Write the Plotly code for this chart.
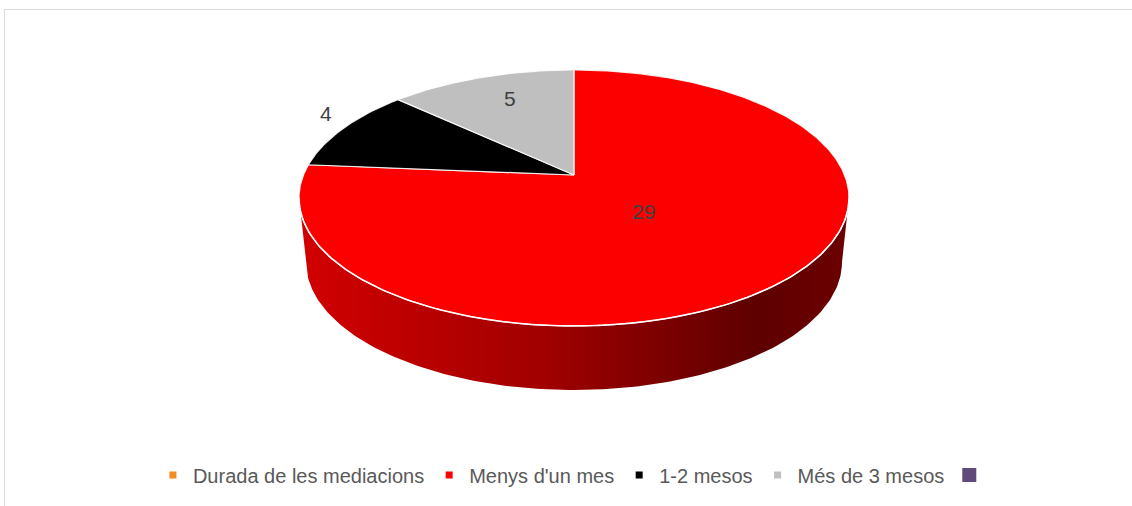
import numpy as np
import plotly.graph_objects as go

# ---- data ----
series_name = "Durada de les mediacions"
categories = ["Menys d'un mes", "1-2 mesos", "Més de 3 mesos"]
values = [29, 4, 5]
slice_colors = ["#FC0000", "#000000", "#BFBFBF"]

# ---- geometry of the 3-D pie (pixel-like axis units) ----
W, H = 1132, 506
CX, CY = 574, 198      # top-face ellipse centre
RX, RY = 275, 128      # top-face radii
VY = 175               # projected apex of the slices (perspective)
DEPTH = 64
RXB = 268              # bottom ellipse radius (perspective)

k = (VY - CY) / RY


def edge_point(theta):
    """Point on top ellipse reached from apex in the direction of pie angle theta (deg, clockwise from top)."""
    t = np.radians(theta)
    s = k * np.cos(t) + np.sqrt((k * np.cos(t)) ** 2 - k * k + 1)
    return CX + s * RX * np.sin(t), VY - s * RY * np.cos(t)


def ray_point(theta, s):
    t = np.radians(theta)
    return CX + s * RX * np.sin(t), VY - s * RY * np.cos(t)


fig = go.Figure()

# side wall (front half, visible part belongs to first slice)
tt = np.radians(np.linspace(90, 270, 181))
top_x = CX + RX * np.sin(tt)
top_y = CY - RY * np.cos(tt)
bot_x = CX + RXB * np.sin(tt[::-1])
bot_y = CY + DEPTH - RY * np.cos(tt[::-1])
fig.add_trace(go.Scatter(
    x=np.concatenate([top_x, bot_x, top_x[:1]]),
    y=np.concatenate([top_y, bot_y, top_y[:1]]),
    mode="lines", fill="toself", line=dict(width=0, color="rgba(0,0,0,0)"),
    fillgradient=dict(type="horizontal",
                      colorscale=[[0, "#D20000"], [0.45, "#A00000"], [0.83, "#5E0000"], [1, "#6C0000"]],
                      start=CX - RX, stop=CX + RX),
    showlegend=False, hoverinfo="skip"))

total = sum(values)
start = 0.0
mids = []
for cat, v, col in zip(categories, values, slice_colors):
    span = 360.0 * v / total
    th = np.linspace(start, start + span, max(int(span * 2), 8))
    pts = [edge_point(a) for a in th]
    xs = [CX] + [p[0] for p in pts] + [CX]
    ys = [VY] + [p[1] for p in pts] + [VY]
    fig.add_trace(go.Scatter(
        x=xs, y=ys, mode="lines", fill="toself", fillcolor=col,
        line=dict(color="rgba(255,255,255,0.85)", width=1.2),
        showlegend=False, name=cat, hoverinfo="skip"))
    mids.append(start + span / 2)
    start += span

# white rim along the front edge of the top face
fig.add_trace(go.Scatter(x=top_x, y=top_y, mode="lines",
                         line=dict(color="white", width=1.5),
                         showlegend=False, hoverinfo="skip"))

FONT = "Liberation Sans, Arial, sans-serif"

# data labels
label_r = [0.39, 1.0, 0.60]
label_xshift = [-3, 4, 2]
label_yshift = [0, 10, 6]
for v, m, r, xs_, ys_ in zip(values, mids, label_r, label_xshift, label_yshift):
    lx, ly = ray_point(m, r)
    fig.add_annotation(x=lx, y=ly, text=str(v), showarrow=False, xshift=xs_, yshift=ys_,
                       font=dict(family=FONT, size=21, color="#404040"))

# legend entries
legend_items = [(series_name, "#F18C1F", 7), (categories[0], "#FF0000", 7),
                (categories[1], "#000000", 7), (categories[2], "#BFBFBF", 7), ("", "#604A7B", 14)]
for name, col, sz in legend_items:
    fig.add_trace(go.Scatter(x=[None], y=[None], mode="markers", name=name,
                             marker=dict(symbol="square", color=col, size=sz)))

fig.add_shape(type="rect", xref="paper", yref="paper",
              x0=4.5 / W, x1=1.01, y0=-0.01, y1=1 - 9.5 / H,
              line=dict(color="#D9D9D9", width=1))

fig.update_layout(
    width=W, height=H, margin=dict(l=0, r=0, t=0, b=0),
    paper_bgcolor="white", plot_bgcolor="white",
    xaxis=dict(range=[0, W], visible=False, fixedrange=True),
    yaxis=dict(range=[H, 0], visible=False, fixedrange=True),
    showlegend=True,
    legend=dict(orientation="h", x=0.507, xanchor="center", y=1 - 475 / H, yanchor="middle",
                font=dict(family=FONT, size=20, color="#595959"),
                itemsizing="trace", bgcolor="rgba(0,0,0,0)"),
)

fig.write_html("out.html", config={"displayModeBar": False},
               post_script="document.body.style.margin='0';document.body.style.overflow='hidden';")
